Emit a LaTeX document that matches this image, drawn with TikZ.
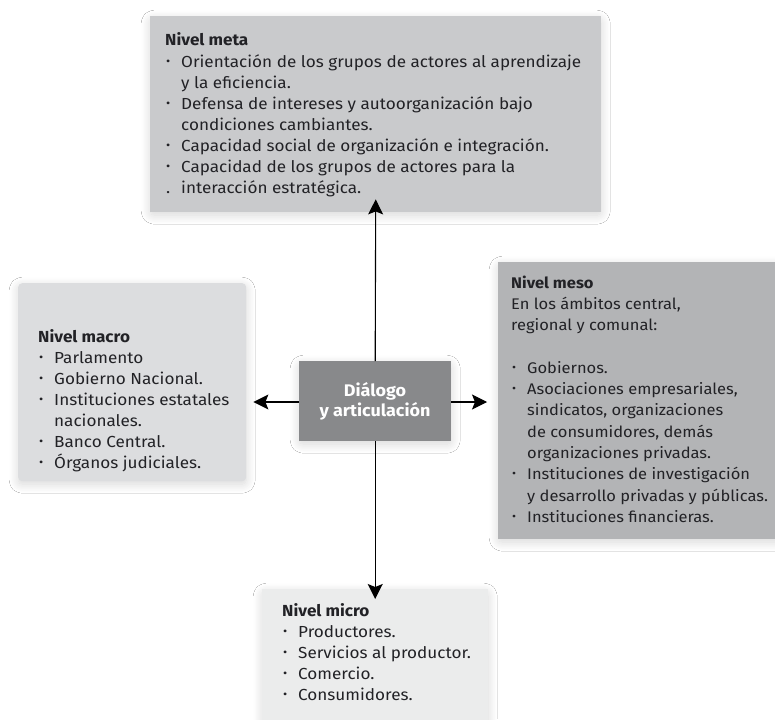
\documentclass[tikz,border=0pt]{standalone}
\usepackage{fontspec}
\setmainfont[FakeStretch=1.07]{Fira Sans}
\usetikzlibrary{shadows.blur,arrows.meta}

\definecolor{txt}{HTML}{222226}
\definecolor{metafill}{HTML}{C9CACC}
\definecolor{macrofill}{HTML}{DCDDDF}
\definecolor{mesofill}{HTML}{B3B4B6}
\definecolor{microfill}{HTML}{EBECEC}
\definecolor{corefill}{HTML}{88898B}

% bullet and hanging indent for the item lists
\newcommand\bul{\makebox[16pt][l]{\hspace{1pt}\raisebox{0.12em}{\scalebox{0.75}{\textbullet}}}}
\newcommand\ind{\hspace*{16pt}}
\newcommand\lvl[1]{\textbf{#1}}

\tikzset{
  panel/.style={draw=none, inner sep=0pt, anchor=north west,
    blur shadow={shadow xshift=0pt, shadow yshift=-3pt,
      shadow blur radius=9pt, shadow blur extra rounding=4pt,
      shadow opacity=16, shadow blur steps=16}},
  listtext/.style={anchor=base west, inner sep=0pt, text=txt,
    font=\fontsize{16}{21.1}\selectfont},
  arr/.style={-{Stealth[length=15pt,width=15pt,inset=3pt]}, line width=1.1pt, black}
}

\begin{document}
\begin{tikzpicture}[x=1pt,y=-1pt]
\useasboundingbox (0,0) rectangle (775,719);
\clip (0,0) rectangle (775,719);
\fill[white] (0,0) rectangle (775,719);

% level panels
\node[panel, fill=metafill, minimum width=451pt, minimum height=196pt] (meta) at (150,16) {};
\node[panel, fill=macrofill, rounded corners=4pt, minimum width=228pt, minimum height=198pt] (macro) at (18,283) {};
\node[panel, fill=mesofill, minimum width=300pt, minimum height=277pt] (meso) at (498,262) {};
\node[panel, fill=microfill, minimum width=226pt, minimum height=160pt] (micro) at (262,589) {};

% central box
\node[panel, fill=corefill, minimum width=152pt, minimum height=80pt] (core) at (299,361) {};
\node[inner sep=0pt, text=white, align=center,
  font=\bfseries\fontsize{16.8}{20}\selectfont] (coretext) at (375,401)
  {Diálogo\\y articulación};

% connectors
\draw[arr] (core.north) -- ([yshift=13pt]meta.south);
\draw[arr] (core.south) -- ([yshift=-10pt]micro.north);
\draw[arr] (core.west |- 0,402) -- ([xshift=7pt]macro.east |- 0,402);
\draw[arr] (core.east |- 0,402) -- ([xshift=-11pt]meso.west |- 0,402);

% texts
\node[listtext] (metatext) at (165,46) {\begin{minipage}[t]{440pt}
\lvl{Nivel meta}\\
\bul Orientación de los grupos de actores al aprendizaje\\
\ind y la eficiencia.\\
\bul Defensa de intereses y autoorganización bajo\\
\ind condiciones cambiantes.\\
\bul Capacidad social de organización e integración.\\
\bul Capacidad de los grupos de actores para la\\
\makebox[16pt][l]{\hspace{1pt}.}interacción estratégica.
\end{minipage}};

\node[listtext] (macrotext) at (38,342) {\begin{minipage}[t]{220pt}
\lvl{Nivel macro}\\
\bul Parlamento\\
\bul Gobierno Nacional.\\
\bul Instituciones estatales\\
\ind nacionales.\\
\bul Banco Central.\\
\bul Órganos judiciales.
\end{minipage}};

\node[listtext, font=\fontsize{15.4}{21.3}\selectfont] (mesotext) at (511,288) {\begin{minipage}[t]{262pt}
\lvl{Nivel meso}\\
En los ámbitos central,\\
regional y comunal:\\
\mbox{}\\
\bul Gobiernos.\\
\bul Asociaciones empresariales,\\
\ind sindicatos, organizaciones\\
\ind de consumidores, demás\\
\ind organizaciones privadas.\\
\bul Instituciones de investigación\\
\ind y desarrollo privadas y públicas.\\
\bul Instituciones financieras.
\end{minipage}};

\node[listtext] (microtext) at (282,616) {\begin{minipage}[t]{200pt}
\lvl{Nivel micro}\\
\bul Productores.\\
\bul Servicios al productor.\\
\bul Comercio.\\
\bul Consumidores.
\end{minipage}};
\end{tikzpicture}
\end{document}
